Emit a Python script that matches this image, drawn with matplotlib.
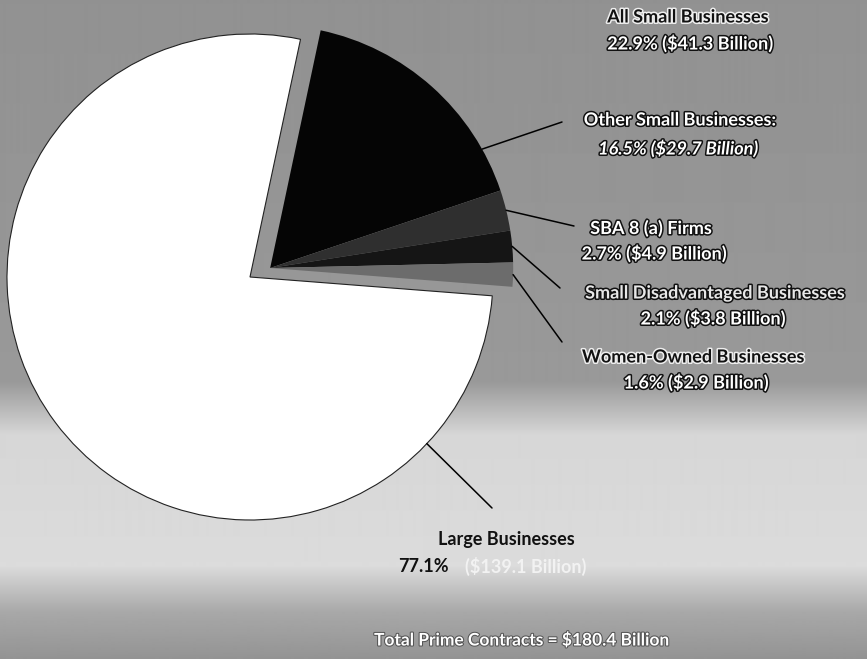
import numpy as np
import matplotlib.pyplot as plt
import matplotlib.patheffects as pe

# figure size in pixels, pie centre/radius in pixels (from top-left)
W, H = 867, 659
CX, CY, R = 250, 277, 243

segments = ['Other Small Businesses', 'SBA 8 (a) Firms',
            'Small Disadvantaged Businesses', 'Women-Owned Businesses',
            'Large Businesses']
shares = [16.5, 2.7, 2.1, 1.6, 77.1]          # percent of prime contracts
billions = [29.7, 4.9, 3.8, 2.9, 139.1]        # $ billion
small_share = 22.9
small_billion = 41.3
total_billion = 180.4

colors = ['#050505', '#2f2f2f', '#151515', '#6c6c6c', '#ffffff']

plt.rcParams['font.family'] = ['Lato', 'DejaVu Sans']


def px(x, y):
    # pixel position -> data units of the pie (radius 1)
    return (x - CX) / R, (CY - y) / R


fig = plt.figure(figsize=(W / 100, H / 100), dpi=100)
ax = fig.add_axes([0, 0, 1, 1])

x0, y1 = px(0, 0)
x1, y0 = px(W, H)

# grey backdrop, lighter band under the pie
ys = np.linspace(0, 1, H)
stop_pos = [0.0, 0.58, 0.66, 0.86, 0.93, 1.0]
stop_gray = [0.57, 0.60, 0.84, 0.86, 0.66, 0.58]
shade = np.interp(ys, stop_pos, stop_gray)[:, None]
ax.imshow(shade, cmap='gray', vmin=0, vmax=1, extent=(x0, x1, y0, y1),
          aspect='auto', zorder=0, interpolation='bilinear')

wedges, _ = ax.pie(shares, colors=colors, startangle=78, counterclock=False,
                   radius=1, wedgeprops=dict(linewidth=0))
for w in wedges:
    w.set_zorder(2)
wedges[-1].set_edgecolor('#222222')
wedges[-1].set_linewidth(0.8)

# pull the small-business group out of the pie
shift = (0.083, 0.037)
for w in wedges[:4]:
    w.set_center(shift)


def arc_point(w, frac):
    a = np.radians(w.theta1 + frac * (w.theta2 - w.theta1))
    cx, cy = w.center
    return cx + w.r * np.cos(a), cy + w.r * np.sin(a)


# leader lines: (wedge index, position along wedge, text end in pixels)
leaders = [(0, 0.18, (562, 122)),
           (1, 0.5, (574, 226)),
           (2, 0.5, (560, 288)),
           (3, 0.5, (562, 342)),
           (4, 0.86, (492, 508))]
for i, frac, end in leaders:
    ax.annotate('', xy=arc_point(wedges[i], frac), xytext=px(*end),
                arrowprops=dict(arrowstyle='-', color='black', lw=1.1,
                                shrinkA=0, shrinkB=0),
                zorder=3)

dark_halo = [pe.withStroke(linewidth=2.2, foreground='#111111')]
light_halo = [pe.withStroke(linewidth=2.2, foreground='#eeeeee')]


def label(x, y, s, color, halo=None, ha='center', size=13, style='normal'):
    ax.text(*px(x, y), s, ha=ha, va='center', color=color, fontsize=size,
            fontweight='bold', fontstyle=style, path_effects=halo, zorder=4)


label(688, 17, 'All Small Businesses', '#111111', light_halo)
label(690, 43, f'{small_share}% (${small_billion} Billion)', 'white', dark_halo)

label(680, 120, segments[0] + ':', 'white', dark_halo)
label(678, 148, f'{shares[0]}% (${billions[0]} Billion)', 'white', dark_halo,
      style='italic')

label(651, 228, segments[1], 'white', dark_halo)
label(654, 253, f'{shares[1]}% (${billions[1]} Billion)', 'white', dark_halo)

label(715, 293, segments[2], '#e8e8e8', dark_halo)
label(713, 318, f'{shares[2]}% (${billions[2]} Billion)', 'white', dark_halo)

label(693, 357, segments[3], '#111111', light_halo)
label(696, 382, f'{shares[3]}% (${billions[3]} Billion)', 'white', dark_halo)

label(506, 540, segments[4], '#111111')
label(398, 566, f'{shares[4]}%', '#111111', ha='left')
label(465, 566, f'(${billions[4]} Billion)', '#f2f2f2', ha='left')

label(522, 640, f'Total Prime Contracts = ${total_billion} Billion', 'white',
      [pe.withStroke(linewidth=1.5, foreground='#555555')], size=12.5)

ax.set_xlim(x0, x1)
ax.set_ylim(y0, y1)
ax.set_aspect('auto')
ax.set_axis_off()

fig.savefig('out.png', dpi=100)
